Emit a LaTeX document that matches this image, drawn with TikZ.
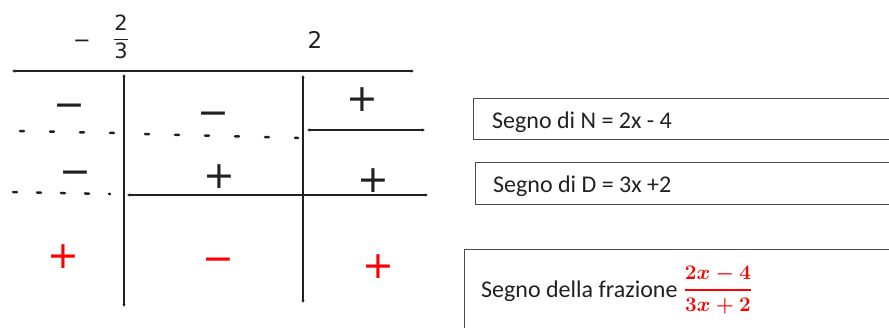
\documentclass[tikz,border=0pt]{standalone}
\usepackage{amsmath,amssymb}
\usepackage{fontspec}
\setmainfont{Carlito}
\newfontfamily\signfont{DejaVu Sans}
\usepackage{tikz}
\usetikzlibrary{arrows.meta}
\usepackage{xcolor}
\definecolor{signred}{rgb}{1.0, 0.0, 0.0}
\definecolor{inkgray}{rgb}{0.13, 0.13, 0.13}
\definecolor{boxgray}{rgb}{0.3, 0.3, 0.3}
\newcommand{\quotient}{\hbox{\boldmath$\genfrac{}{}{2.2pt}{0}{2x-4}{3x+2}$}}
\newcommand{\hand}[1]{\hbox{\signfont #1}}

\begin{document}
\begin{tikzpicture}[x=1pt, y=-1pt,
		sgn/.style={font=\signfont\fontsize{38}{38}\selectfont, text=inkgray, inner sep=0pt, text height=25pt, text depth=0pt},
		redsgn/.style={sgn, text=signred},
		root/.style={font=\signfont\fontsize{21}{21}\selectfont, text=inkgray, inner sep=0pt},
		axis/.style={draw=inkgray, line width=2pt, {Latex[length=3pt,width=3.5pt]}-{Latex[length=3pt,width=3.5pt]}},
		neg/.style={draw=inkgray, line width=2.5pt, dash pattern=on 4pt off 26pt, line cap=round},
		legend/.style={draw=boxgray, line width=1.3pt, anchor=north west, inner sep=0pt},
		txt/.style={font=\fontsize{24}{24}\selectfont, text=inkgray, anchor=base west, inner sep=0pt},
		quot/.style={font=\fontsize{20}{20}\selectfont, text=signred, inner sep=0pt}
	]
	\useasboundingbox (0,0) rectangle (889,327);
	\clip (0,0) rectangle (889,327);
	% roots
	\node[root, text height=14pt, text depth=0pt] (r1m) at (82,40) {−};
	\node[root] (r1) at (121,37) {$\dfrac{\hand{2}}{\hand{3}}$};
	\node[root, font=\signfont\fontsize{23}{23}\selectfont] (r2) at (315,40) {2};
	% axis and vertical lines
	\coordinate (ax-l) at (12,71);
	\coordinate (ax-r) at (414,71);
	\coordinate (v1-t) at (124,74);
	\coordinate (v1-b) at (124,307);
	\coordinate (v2-t) at (303,75);
	\coordinate (v2-b) at (303,303);
	\draw[axis] (ax-l) -- (ax-r);
	\draw[axis] (v1-t) -- (v1-b);
	\draw[axis] (v2-t) -- (v2-b);
	% sign of N
	\coordinate (nn-a) at (20,131);
	\coordinate (nn-b) at (114,133);
	\coordinate (nn-c) at (145,134);
	\coordinate (nn-d) at (298,138);
	\coordinate (np-l) at (307,130);
	\coordinate (np-r) at (425,130);
	\draw[neg] (nn-a) -- (nn-b);
	\draw[neg] (nn-c) -- (nn-d);
	\draw[axis] (np-l) -- (np-r);
	\node[sgn] (n1) at (69,105) {−};
	\node[sgn] (n2) at (213,113) {−};
	\node[sgn] (n3) at (362,99) {+};
	% sign of D
	\coordinate (dn-l) at (13,192);
	\coordinate (dn-r) at (110,194);
	\coordinate (dp-l) at (127,195);
	\coordinate (dp-r) at (428,195);
	\draw[neg, dash pattern=on 4pt off 20pt] (dn-l) -- (dn-r);
	\draw[axis] (dp-l) -- (dp-r);
	\node[sgn] (d1) at (75,172) {−};
	\node[sgn] (d2) at (219,176) {+};
	\node[sgn] (d3) at (373,180) {+};
	% sign of the fraction
	\node[redsgn] (f1) at (63,256) {+};
	\node[redsgn] (f2) at (218,259) {−};
	\node[redsgn] (f3) at (378,266) {+};
	% legend boxes
	\node[legend, minimum width=440pt, minimum height=41pt] (nbox) at (473,98) {};
	\node[txt] (ntxt) at (492,128) {Segno di N = 2x - 4};
	\node[legend, minimum width=440pt, minimum height=42pt] (dbox) at (475,162) {};
	\node[txt] (dtxt) at (493,192) {Segno di D = 3x +2};
	\node[legend, minimum width=450pt, minimum height=100pt] (fbox) at (464,249) {};
	\node[txt] (ftxt) at (481,297) {Segno della frazione};
	\node[quot] (fq) at (718,290) {\quotient};
\end{tikzpicture}
\end{document}
